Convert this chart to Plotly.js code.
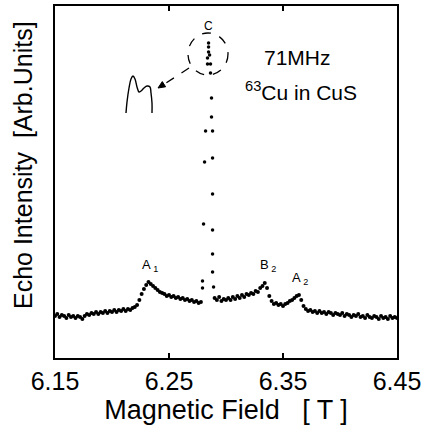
<!DOCTYPE html>
<html>
<head>
<meta charset="utf-8">
<script src="https://cdn.plot.ly/plotly-3.0.1.min.js"></script>
<style>html,body{margin:0;padding:0;background:#fff;}#chart{width:428px;height:432px;}</style>
</head>
<body>
<div id="chart"></div>
<script>
// ---- data (field in T, intensity in arbitrary units) ----
const fieldLow = [6.150,6.152,6.154,6.156,6.158,6.160,6.162,6.164,6.166,6.168,6.170,6.172,6.174,6.176,6.178,6.180,6.182,6.184,6.186,6.188,6.190,6.192,6.194,6.196,6.198,6.200,6.202,6.204,6.206,6.208,6.210,6.212,6.214,6.216,6.218,6.220,6.222,6.224,6.226,6.228,6.230,6.232,6.234,6.236,6.238,6.240,6.242,6.244,6.246,6.248,6.250,6.252,6.254,6.256,6.258,6.260,6.262,6.264,6.266,6.268,6.270,6.272,6.274,6.276,6.278];
const echoLow = [42,44,41,43,42,40,43,41,42,40,42,41,39,42,44,43,45,44,46,44,46,45,47,45,47,46,48,46,48,47,49,47,49,48,50,51,53,58,64,69,73,76,74,72,70,68,66,65,64,62,63,61,62,60,61,59,60,58,59,57,58,56,57,55,56];
const fieldCenter = [6.2794,6.2794,6.2803,6.2812,6.2821,6.2838,6.2838,6.2847,6.2847,6.2847,6.2856,6.2864,6.2864,6.2873,6.2873,6.2882,6.2882,6.2882,6.2882,6.2882,6.2882,6.2891];
const echoCenter = [77,70,134,196,227,294,300,306,311,315,303,294,285,260,241,227,200,164,128,104,86,71];
const fieldHigh = [6.290,6.292,6.294,6.296,6.298,6.300,6.302,6.304,6.306,6.308,6.310,6.312,6.314,6.316,6.318,6.320,6.322,6.324,6.326,6.328,6.330,6.332,6.334,6.336,6.338,6.340,6.342,6.344,6.346,6.348,6.350,6.352,6.354,6.356,6.358,6.360,6.362,6.364,6.366,6.368,6.370,6.372,6.374,6.376,6.378,6.380,6.382,6.384,6.386,6.388,6.390,6.392,6.394,6.396,6.398,6.400,6.402,6.404,6.406,6.408,6.410,6.412,6.414,6.416,6.418,6.420,6.422,6.424,6.426,6.428,6.430,6.432,6.434,6.436,6.438,6.440,6.442,6.444,6.446,6.448,6.450];
const echoHigh = [60,58,61,57,59,58,60,58,61,59,62,60,63,61,64,63,65,64,67,66,70,72,75,70,62,57,54,55,53,54,52,54,55,57,58,60,62,63,58,52,49,47,48,46,47,45,47,45,46,44,46,45,43,45,44,43,45,42,44,43,41,43,42,44,41,42,40,43,41,40,42,41,39,42,40,41,39,42,40,41,40];
const tickVals = [6.15,6.25,6.35,6.45];
const tickText = ["6.15","6.25","6.35","6.45"];
const peakLabels = ["A<sub> 1</sub>","B<sub> 2</sub>","A<sub> 2</sub>","C"];
const insetPx = [[126,113],[127,102],[129,88],[131,79],[133,76],[135,79],[137,87],[139,92],[141,91],[144,88],[147,86],[150,87],[151,93],[152,103],[152,113]];

// ---- pixel helper for decorations ----
const fx = px => 6.15 + (px - 55) * 0.3 / 342;
const fy = py => 358 - py;

const FONT = "Liberation Sans, Arial, Helvetica, sans-serif";
const mk = {color:'black', size:4};

const traces = [
  {x: fieldLow, y: echoLow, mode:'markers', marker: mk},
  {x: fieldCenter, y: echoCenter, mode:'markers', marker: {color:'black', size:3.5}},
  {x: fieldHigh, y: echoHigh, mode:'markers', marker: mk},
  {x: insetPx.map(p=>fx(p[0])), y: insetPx.map(p=>fy(p[1])), mode:'lines', line:{color:'black', width:1.4, shape:'spline'}}
];

// arrow head
const tip=[158,88], b1=[165.6,86.8], b2=[162.3,81.6];
const headPath = `M ${fx(tip[0])} ${fy(tip[1])} L ${fx(b1[0])} ${fy(b1[1])} L ${fx(b2[0])} ${fy(b2[1])} Z`;

const ann = (px,py,text,size) => ({x:fx(px), y:fy(py), xref:'x', yref:'y', text:text, showarrow:false, font:{family:FONT, size:size, color:'black'}});

const layout = {
  width:428, height:432,
  margin:{l:55, r:31, t:6, b:74},
  paper_bgcolor:'white', plot_bgcolor:'white',
  showlegend:false,
  font:{family:FONT, color:'black'},
  xaxis:{
    range:[6.15,6.45], tickvals:tickVals, ticktext:tickText,
    ticks:'inside', ticklen:5, tickwidth:1.5, tickcolor:'black',
    showline:true, linecolor:'black', linewidth:2, mirror:'allticks',
    showgrid:false, zeroline:false,
    tickfont:{family:FONT, size:25, color:'black'},
    title:{text:'Magnetic Field   [ T ]', font:{family:FONT, size:27, color:'black'}, standoff:4}
  },
  yaxis:{
    range:[0,352], showticklabels:false, ticks:'',
    showline:true, linecolor:'black', linewidth:2, mirror:true,
    showgrid:false, zeroline:false
  },
  shapes:[
    {type:'circle', xref:'x', yref:'y', x0:fx(188), x1:fx(228), y0:fy(75), y1:fy(33), line:{color:'black', width:1.3, dash:'dash'}},
    {type:'line', xref:'x', yref:'y', x0:fx(189), y0:fy(68), x1:fx(163), y1:fy(85), line:{color:'black', width:1.3, dash:'dash'}},
    {type:'path', xref:'x', yref:'y', path:headPath, fillcolor:'black', line:{color:'black', width:1}}
  ],
  annotations:[
    ann(150,265,peakLabels[0],13),
    ann(268,265,peakLabels[1],13),
    ann(300,278,peakLabels[2],13),
    ann(208,26,peakLabels[3],12),
    ann(297,57,'71MHz',21),
    ann(301,91,'<sup>63</sup>Cu in CuS',21),
    {xref:'paper', yref:'paper', x:(23-55)/342, y:(358-165)/352, xanchor:'center', yanchor:'middle',
     text:'Echo Intensity  [Arb.Units]', textangle:-90, showarrow:false,
     font:{family:FONT, size:25, color:'black'}}
  ]
};

Plotly.newPlot('chart', traces, layout, {displayModeBar:false, staticPlot:true});
</script>
</body>
</html>
